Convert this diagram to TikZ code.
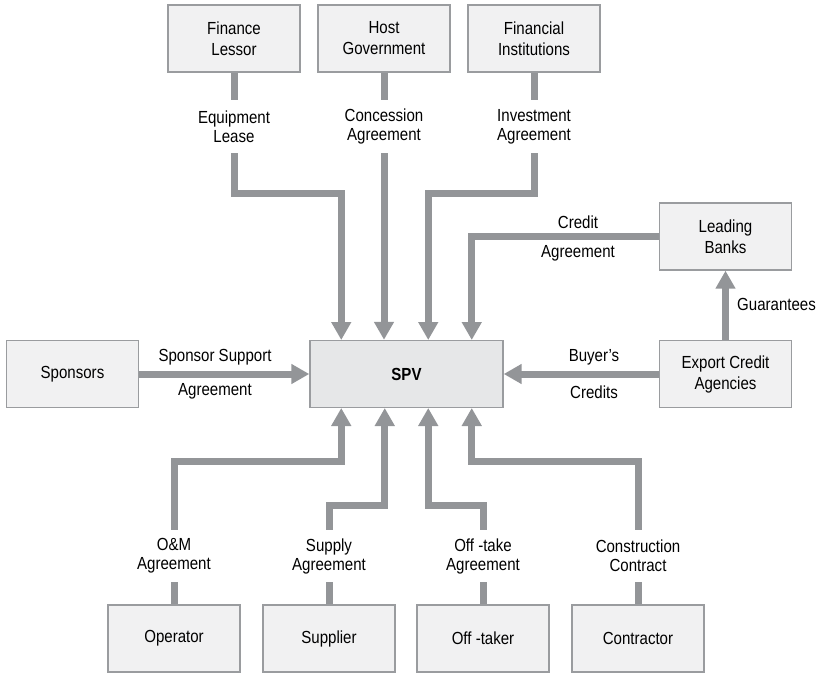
\documentclass[tikz,border=0pt]{standalone}
\usepackage{fontspec}
\setmainfont[FakeStretch=0.86]{Liberation Sans}
\usetikzlibrary{arrows.meta}
\definecolor{linegray}{HTML}{939598}
\definecolor{boxline}{HTML}{9A9C9F}
\definecolor{boxfill}{HTML}{F1F1F2}
\definecolor{spvfill}{HTML}{E6E7E8}
\begin{document}
\begin{tikzpicture}[x=1pt,y=-1pt,
  box/.style={draw=boxline, fill=boxfill, line width=1.4pt, minimum width=132pt,
    minimum height=67pt, inner sep=0pt, align=center,
    font=\fontsize{17.5}{21}\selectfont},
  lbl/.style={inner sep=0pt, align=center, font=\fontsize{17.5}{19}\selectfont},
  vlbl/.style={lbl, minimum height=53pt},
  link/.style={draw=linegray, line width=7pt},
  arr/.style={link, -{Triangle[width=19pt,length=18pt]}}]
\useasboundingbox (0,0) rectangle (817,674);

% top row
\node[box] (fl) at (234,38.5) {Finance\\Lessor};
\node[box] (hg) at (384,38.5) {Host\\Government};
\node[box] (fi) at (534,38.5) {Financial\\Institutions};

% middle row
\node[box] (sp) at (72.5,374) {Sponsors};
\node[box, fill=spvfill, minimum width=193pt, font=\fontsize{17.5}{21}\selectfont\bfseries] (spv) at (406.5,374) {SPV};
\node[box] (eca) at (725.5,374) {Export Credit\\Agencies};
\node[box] (lb) at (725.5,236.5) {Leading\\Banks};

% bottom row
\node[box] (op) at (174,638.5) {Operator};
\node[box] (su) at (329,638.5) {Supplier};
\node[box] (ot) at (483,638.5) {Off -taker};
\node[box] (co) at (638,638.5) {Contractor};

% arrow entry points on SPV
\coordinate (t1) at (341.25,340);
\coordinate (t3) at (428.25,340);
\coordinate (t4) at (471.75,340);
\coordinate (b1) at (341.25,408);
\coordinate (b2) at (384.75,408);
\coordinate (b3) at (428.25,408);
\coordinate (b4) at (471.75,408);

% top labels
\node[vlbl] (lel) at (234,126.5) {Equipment\\Lease};
\node[vlbl] (lca) at (384,126.5) {Concession\\Agreement};
\node[vlbl] (lia) at (534,126.5) {Investment\\Agreement};

% bottom labels
\node[vlbl, minimum height=52pt] (lom) at (174,556) {O\&M\\Agreement};
\node[vlbl, minimum height=52pt] (lsa) at (329,556) {Supply\\Agreement};
\node[vlbl, minimum height=52pt] (lot) at (483,556) {Off -take\\Agreement};
\node[vlbl, minimum height=52pt] (lcc) at (638,556) {Construction\\Contract};

% side labels
\node[lbl] (ss1) at (215,357) {Sponsor Support};
\node[lbl] (ss2) at (215,391) {Agreement};
\node[lbl] (bc1) at (594,357) {Buyer’s};
\node[lbl] (bc2) at (594,392) {Credits};
\node[lbl] (ca1) at (578,222) {Credit};
\node[lbl] (ca2) at (578,253) {Agreement};
\node[lbl, anchor=west] (gu) at (737,304) {Guarantees};

% top connectors
\draw[link] (fl.south) -- (lel.north);
\draw[arr] (lel.south) -- ++(0,40) -| (t1);
\draw[link] (hg.south) -- (lca.north);
\draw[arr] (lca.south) -- (lca.south |- spv.north);
\draw[link] (fi.south) -- (lia.north);
\draw[arr] (lia.south) -- ++(0,40) -| (t3);
\draw[arr] (lb.west) -| (t4);

% side connectors
\draw[arr] (sp.east) -- (spv.west);
\draw[arr] (eca.west) -- (spv.east);
\draw[arr] (eca.north) -- (lb.south);

% bottom connectors
\draw[link] (op.north) -- (lom.south);
\draw[arr] (lom.north) -- ++(0,-68) -| (b1);
\draw[link] (su.north) -- (lsa.south);
\draw[arr] (lsa.north) -- ++(0,-24) -| (b2);
\draw[link] (ot.north) -- (lot.south);
\draw[arr] (lot.north) -- ++(0,-24) -| (b3);
\draw[link] (co.north) -- (lcc.south);
\draw[arr] (lcc.north) -- ++(0,-68) -| (b4);
\end{tikzpicture}
\end{document}
